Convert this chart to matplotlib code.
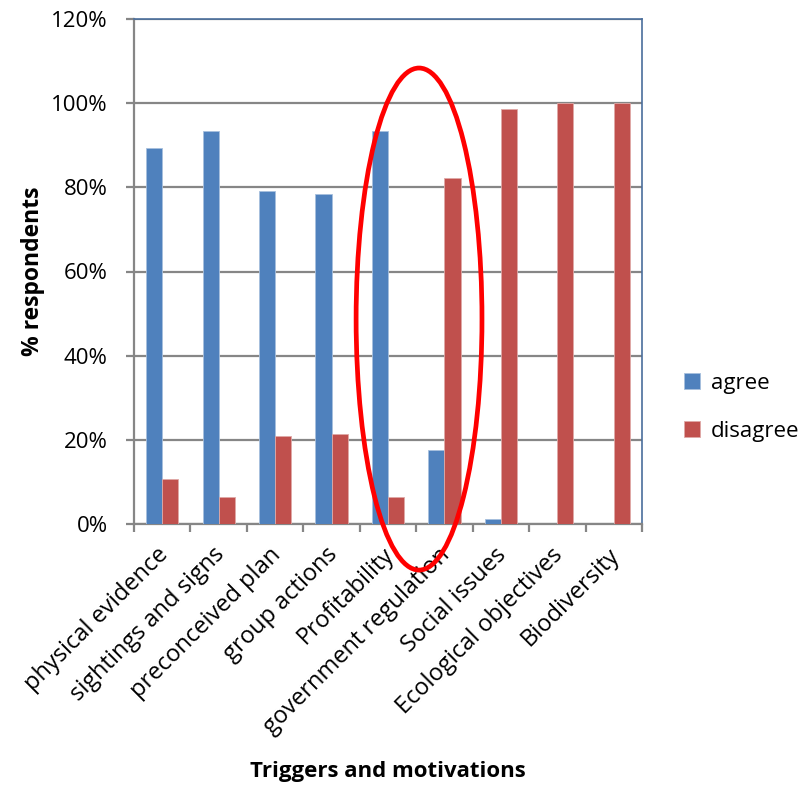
import matplotlib
matplotlib.use("Agg")
import matplotlib.pyplot as plt
from matplotlib.patches import Ellipse
from matplotlib.ticker import FuncFormatter
import numpy as np

categories = ["physical evidence", "sightings and signs", "preconceived plan",
              "group actions", "Profitability", "government regulation",
              "Social issues", "Ecological objectives", "Biodiversity"]
agree = [89.4, 93.5, 79.1, 78.5, 93.5, 17.7, 1.3, 0.0, 0.0]
disagree = [10.6, 6.5, 20.8, 21.5, 6.5, 82.1, 98.7, 100.0, 100.0]
series_names = ["agree", "disagree"]
y_ticks = [0, 20, 40, 60, 80, 100, 120]

BLUE = "#4F81BD"
RED = "#C0504D"
GRID = "#868686"
FRAME = "#4A6E9C"
FONT = ["Open Sans", "DejaVu Sans"]
FS = 16

plt.rcParams["font.family"] = FONT

fig = plt.figure(figsize=(8.07, 7.86), dpi=100)
ax = fig.add_axes([134 / 807, 1 - 524 / 786, 508 / 807, 505 / 786])

x = np.arange(len(categories))
w = 0.285
ax.bar(x - w / 2, agree, w, color=BLUE, edgecolor="#A7C0DE", linewidth=0.6,
       label=series_names[0], zorder=3)
ax.bar(x + w / 2, disagree, w, color=RED, edgecolor="#DFA9A7", linewidth=0.6,
       label=series_names[1], zorder=3)

ax.set_xlim(-0.5, len(categories) - 0.5)
ax.set_ylim(0, 120)
ax.set_yticks(y_ticks)
ax.yaxis.set_major_formatter(FuncFormatter(lambda v, _: f"{int(v)}%"))
ax.yaxis.grid(True, color=GRID, linewidth=1.6, zorder=0)
ax.set_axisbelow(True)

# category boundaries carry the x tick marks
ax.set_xticks(np.arange(len(categories) + 1) - 0.5)
ax.set_xticklabels([])
ax.tick_params(axis="x", length=6, width=1.6, color=GRID, direction="out")
ax.tick_params(axis="y", length=6, width=1.6, color=GRID, pad=13,
               labelsize=FS)

for xi, name in zip(x, categories):
    ax.text(xi + 0.04, -6.5, name, rotation=45, ha="right", va="center",
            rotation_mode="anchor", fontsize=17, transform=ax.transData)

for side in ("left", "bottom"):
    ax.spines[side].set_color(GRID)
    ax.spines[side].set_linewidth(1.6)
for side in ("top", "right"):
    ax.spines[side].set_color(FRAME)
    ax.spines[side].set_linewidth(1.2)

ax.set_ylabel("% respondents", fontsize=16.5, fontweight="bold", labelpad=4)
fig.text(388 / 807, 1 - 771 / 786, "Triggers and motivations", ha="center",
         va="center", fontsize=FS, fontweight="bold")

# highlight ring around Profitability / government regulation
ring = Ellipse((4.55, 48.7), 2.23, 119.3, fill=False, edgecolor="#FF0000",
               linewidth=3.4, clip_on=False, zorder=5)
ax.add_patch(ring)

ax.legend(loc="center left", bbox_to_anchor=(1.044, 0.231), frameon=False,
          fontsize=FS, handlelength=0.7, handleheight=0.7,
          labelspacing=1.2, handletextpad=0.5)

fig.savefig("out.png", dpi=100)
